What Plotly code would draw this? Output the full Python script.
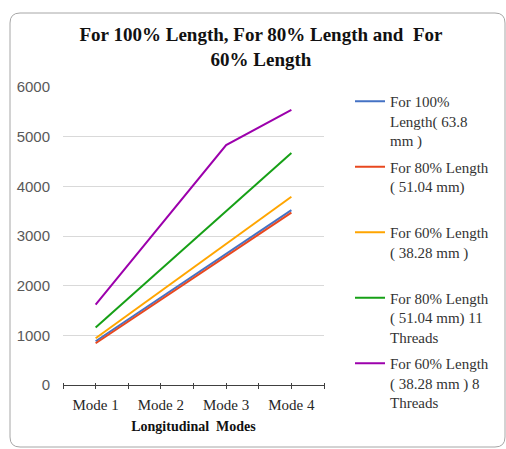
import plotly.graph_objects as go

categories = ["Mode 1", "Mode 2", "Mode 3", "Mode 4"]
len100 = [880, 1760, 2640, 3520]
len80 = [840, 1720, 2600, 3470]
len60 = [940, 1890, 2840, 3790]
len80_11 = [1160, 2330, 3500, 4670]
len60_8 = [1620, 3230, 4830, 5540]
y_ticks = [0, 1000, 2000, 3000, 4000, 5000, 6000]

series = [
    ("For 100%<br>Length( 63.8<br>mm )", len100, "#4472C4", "x"),
    ("For 80% Length<br>( 51.04 mm)<br> ", len80, "#E8481F", "x"),
    ("For 60% Length<br>( 38.28 mm )<br> ", len60, "#FFA500", "x"),
    ("For 80% Length<br>( 51.04 mm) 11<br>Threads", len80_11, "#16A016", "x"),
    ("For 60% Length<br>( 38.28 mm ) 8<br>Threads", len60_8, "#9C00AC", "x2"),
]

W, H = 506, 449
L, R, T, B = 63, 182, 87, 64
PW, PH = W - L - R, H - T - B

def px(x):
    return (x - L) / PW

def py(y):
    return (H - B - y) / PH

fig = go.Figure()
for i, (name, vals, color, xa) in enumerate(series):
    fig.add_trace(go.Scatter(x=categories, y=vals, mode="lines", name=name,
                             legendgroup=f"g{i}", xaxis=xa,
                             line=dict(color=color, width=2)))

# rounded frame
x0, x1, y0, y1, r = 10, 505, 13, 447, 10
path = (f"M {px(x0 + r)},{py(y0)} L {px(x1 - r)},{py(y0)} Q {px(x1)},{py(y0)} {px(x1)},{py(y0 + r)} "
        f"L {px(x1)},{py(y1 - r)} Q {px(x1)},{py(y1)} {px(x1 - r)},{py(y1)} "
        f"L {px(x0 + r)},{py(y1)} Q {px(x0)},{py(y1)} {px(x0)},{py(y1 - r)} "
        f"L {px(x0)},{py(y0 + r)} Q {px(x0)},{py(y0)} {px(x0 + r)},{py(y0)} Z")

tick_pos = 3 / PH
fig.update_layout(
    width=W, height=H,
    margin=dict(l=L, r=R, t=T, b=B, autoexpand=False),
    paper_bgcolor="white", plot_bgcolor="white",
    title=dict(text="For 100% Length, For 80% Length and  For<br>60% Length",
               font=dict(family="Liberation Serif", size=19, color="#111111", weight="bold"),
               x=px(261), xref="paper", xanchor="center",
               y=1 - 41 / H, yref="container", yanchor="top"),
    shapes=[dict(type="path", path=path, xref="paper", yref="paper",
                 line=dict(color="#a6a6a6", width=1), layer="below")],
    xaxis=dict(type="category", categoryarray=categories, range=[-0.5, 3.5], showgrid=False,
               anchor="free", position=tick_pos,
               showline=False, ticks="outside", ticklen=6, tickcolor="#404040", tickwidth=1.2,
               ticklabelstandoff=3,
               tickfont=dict(family="Liberation Serif", size=15, color="#262626"),
               title=dict(text="Longitudinal  Modes", standoff=9,
                          font=dict(family="Liberation Serif", size=14, color="#111111",
                                    weight="bold")),
               fixedrange=True),
    xaxis2=dict(type="category", categoryarray=categories, overlaying="x",
                anchor="free", position=tick_pos,
                range=[-0.5, 3.5], tickson="boundaries", ticks="outside", ticklen=6,
                tickcolor="#404040", tickwidth=1.2, showticklabels=False,
                showgrid=False, showline=False, zeroline=False, fixedrange=True),
    yaxis=dict(range=[0, 6000], tickvals=y_ticks, showgrid=True, gridcolor="#d9d9d9",
               gridwidth=1, zeroline=True, zerolinecolor="#404040", zerolinewidth=1.2,
               showline=False, ticks="", ticklabelstandoff=12, fixedrange=True,
               tickfont=dict(family="Liberation Sans", size=15, color="#595959")),
    legend=dict(x=px(350), y=py(85), xanchor="left", yanchor="top",
                font=dict(family="Liberation Serif", size=15, color="#333333"),
                valign="top", bgcolor="rgba(0,0,0,0)", tracegroupgap=4,
                traceorder="grouped", maxheight=430),
    showlegend=True,
)

fig.write_html("out.html", config={"displayModeBar": False},
               post_script="document.body.style.margin='0';")
